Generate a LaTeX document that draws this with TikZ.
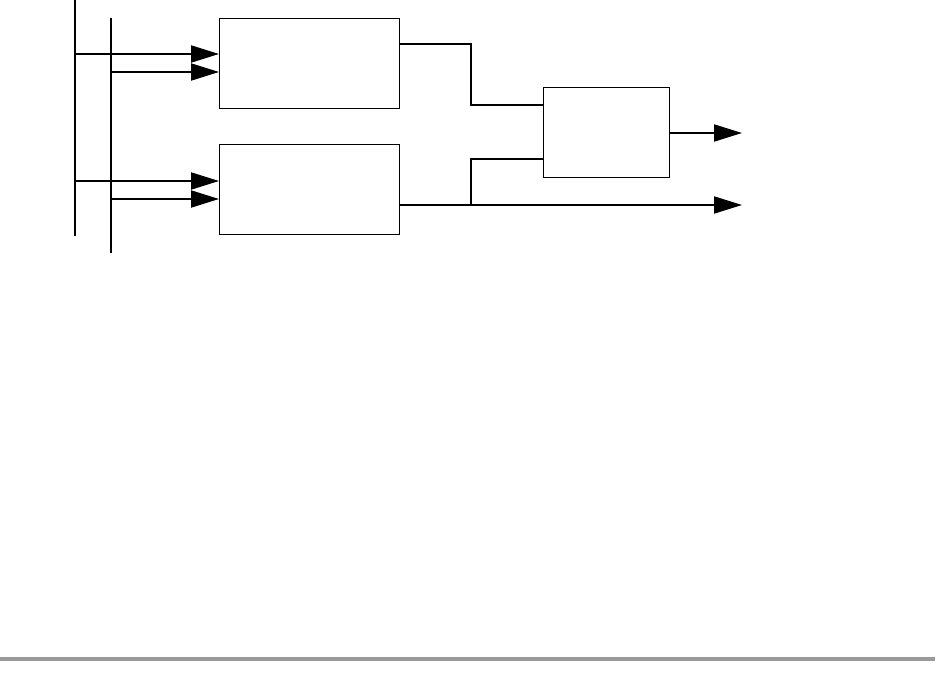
\documentclass[tikz,border=0pt]{standalone}
\usetikzlibrary{arrows.meta}
\definecolor{rulegray}{HTML}{9A9A9A}
\begin{document}
\begin{tikzpicture}[x=1pt,y=-1pt,
  blk/.style={draw, line width=1.3pt, rectangle, minimum width=180pt, minimum height=90pt, inner sep=0pt, anchor=north west},
  wire/.style={line width=2pt},
  arr/.style={wire, -{Triangle[length=28pt,width=17pt]}}]
\useasboundingbox (0,0) rectangle (937,679);
% blocks
\node[blk] (b1) at (219,18) {};
\node[blk] (b2) at (219,144) {};
\node[blk, minimum width=126pt] (b3) at (543,87) {};
% buses
\coordinate (bus1t) at (75,0);
\coordinate (bus1b) at (75,236);
\coordinate (bus2t) at (111,18);
\coordinate (bus2b) at (111,253);
\draw[wire] (bus1t) -- (bus1b);
\draw[wire] (bus2t) -- (bus2b);
% inputs
\coordinate (i1) at (75,54);
\coordinate (i2) at (111,72);
\coordinate (i3) at (75,181);
\coordinate (i4) at (111,199);
\draw[arr] (i1) -- (i1 -| b1.west);
\draw[arr] (i2) -- (i2 -| b1.west);
\draw[arr] (i3) -- (i3 -| b2.west);
\draw[arr] (i4) -- (i4 -| b2.west);
% outputs
\coordinate (o1) at (399,44);
\coordinate (j1) at (471,105);
\coordinate (o2) at (399,205);
\coordinate (j2) at (471,205);
\coordinate (j3) at (471,159);
\coordinate (e2) at (742,205);
\coordinate (o3) at (669,133);
\coordinate (e3) at (742,133);
\draw[wire] (o1) -| (j1) -- (j1 -| b3.west);
\draw[arr] (o2) -- (e2);
\draw[wire] (j2) -- (j3) -- (j3 -| b3.west);
\draw[arr] (o3) -- (e3);
% rule
\draw[rulegray, line width=4pt] (0,659) -- (935,659);
\end{tikzpicture}
\end{document}
